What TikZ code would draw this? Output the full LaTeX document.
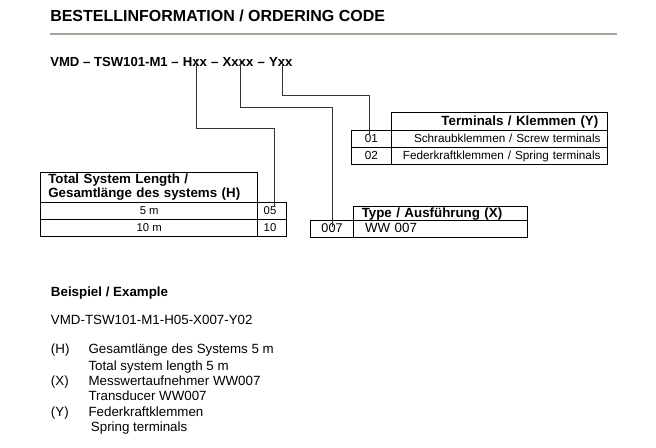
\documentclass[tikz,border=0pt]{standalone}
\usepackage{fontspec}
\setmainfont{Liberation Sans}
\usetikzlibrary{positioning,calc}
\definecolor{rulegray}{RGB}{168,164,156}

\begin{document}
\begin{tikzpicture}[x=0.75pt,y=0.75pt,yscale=-1,xscale=1]
 \tikzstyle{cell} = [draw, line width=0.75pt, outer sep=0pt, inner ysep=0pt]
 \tikzstyle{row} = [cell, minimum height=12.75pt, text height=7pt, text depth=2pt]
 \tikzstyle{conn} = [draw=black!80, line width=0.75pt]
 \tikzstyle{txt} = [anchor=base west, inner sep=0pt, font=\fontsize{10}{12}\selectfont]
 \tikzstyle{code} = [txt, font=\fontsize{9.85}{12}\selectfont\bfseries]
 \useasboundingbox (0,0) rectangle (656,448);

 %Heading and rule
 \node[txt, font=\fontsize{12}{14}\selectfont\bfseries] (title) at (50,21.7) {BESTELLINFORMATION / ORDERING CODE};
 \draw[line width=1.5pt, rulegray] (50,34) -- (617,34);

 %Code line, piece by piece
 \node[code] (codea) at (50,66.7) {VMD – TSW101-M1 –\ \null};
 \node[code, base right=0pt of codea] (hxx) {Hxx};
 \node[code, base right=0pt of hxx] (sepa) {\ –\ \null};
 \node[code, base right=0pt of sepa] (xxxx) {Xxxx};
 \node[code, base right=0pt of xxxx] (sepb) {\ –\ \null};
 \node[code, base right=0pt of sepb] (yxx) {Yxx};

 %Table H
 \node[row, anchor=north west, minimum width=162.75pt, font=\fontsize{8.5}{10}\selectfont] (th5) at (40.7,202.3) {5 m};
 \node[row, right=0pt of th5, text width=12.75pt, inner xsep=4.5pt, align=left, font=\fontsize{8.5}{10}\selectfont] (th05) {05};
 \node[row, below=0pt of th5, minimum width=162.75pt, font=\fontsize{8.5}{10}\selectfont] (th10) {10 m};
 \node[row, right=0pt of th10, text width=12.75pt, inner xsep=4.5pt, align=left, font=\fontsize{8.5}{10}\selectfont] (th10c) {10};
 \node[cell, above=0pt of th5, minimum height=22.5pt, text width=151.35pt, inner xsep=5.7pt, align=left, font=\fontsize{10}{9.3}\selectfont\bfseries] (thhead) {Total System Length /\\Gesamtlänge des systems (H)};

 %Table X
 \node[row, anchor=north west, minimum width=32pt, minimum height=12.5pt, font=\fontsize{9.5}{11}\selectfont] (tx007) at (310.7,221) {007};
 \node[row, right=0pt of tx007, minimum height=12.5pt, text width=112.9pt, inner xsep=8.8pt, align=left, font=\fontsize{10}{12}\selectfont] (tx007d) {WW 007};
 \node[cell, above=0pt of tx007d, minimum height=10.7pt, text height=7.5pt, text depth=2pt, text width=117.9pt, inner xsep=6.3pt, align=left, font=\fontsize{10}{12}\selectfont\bfseries] (txhead) {Type / Ausführung (X)};

 %Table Y
 \node[row, anchor=north west, minimum width=29.5pt, font=\fontsize{8.8}{11}\selectfont] (ty01) at (351.7,131) {01};
 \node[row, right=0pt of ty01, text width=152pt, inner xsep=5.1pt, align=right, font=\fontsize{8.8}{11}\selectfont] (ty01d) {Schraubklemmen / Screw terminals};
 \node[row, below=0pt of ty01, minimum width=29.5pt, font=\fontsize{8.8}{11}\selectfont] (ty02) {02};
 \node[row, right=0pt of ty02, text width=152pt, inner xsep=5.1pt, align=right, font=\fontsize{8.8}{11}\selectfont] (ty02d) {Federkraftklemmen / Spring terminals};
 \node[cell, above=0pt of ty01d, minimum height=13.7pt, text height=7.5pt, text depth=2pt, text width=148.7pt, inner xsep=6.75pt, align=right, font=\fontsize{10}{12}\selectfont\bfseries] (tyhead) {Terminals / Klemmen (Y)};

 %Connectors
 \coordinate (hbend) at (0,128.3);
 \coordinate (xbend) at (0,107.5);
 \coordinate (ybend) at (0,96);
 \coordinate (hend) at ([xshift=2pt,yshift=3.5pt]th05.north);
 \coordinate (xend) at ([yshift=4.5pt]tx007.north);
 \coordinate (yend) at ([xshift=-1.5pt,yshift=2pt]ty01.north);
 \draw[conn] ([xshift=1.5pt,yshift=-5.5pt]hxx.base) |- (hbend -| hend) -- (hend);
 \draw[conn] ([xshift=2pt,yshift=-5.5pt]xxxx.base) |- (xbend -| xend) -- (xend);
 \draw[conn] ([xshift=1pt,yshift=-5.5pt]yxx.base) |- (ybend -| yend) -- (yend);

 %Example
 \node[code, font=\fontsize{10}{12}\selectfont\bfseries] (beisp) at (50.7,296.7) {Beispiel / Example};
 \node[txt] (exmpl) at (50.7,325) {VMD-TSW101-M1-H05-X007-Y02};
 \node[txt] (keyh) at (50.7,354) {(H)};
 \node[txt] (texth) at (88.3,354) {Gesamtlänge des Systems 5 m};
 \node[txt] (texthb) at (88.3,370.7) {Total system length 5 m};
 \node[txt] (keyx) at (50.7,385.3) {(X)};
 \node[txt] (textx) at (88.3,385.3) {Messwertaufnehmer WW007};
 \node[txt] (textxb) at (88.3,400.7) {Transducer WW007};
 \node[txt] (keyy) at (50.7,416.7) {(Y)};
 \node[txt] (texty) at (88.3,416.7) {Federkraftklemmen};
 \node[txt] (textyb) at (90.7,431.7) {Spring terminals};

\end{tikzpicture}
\end{document}
